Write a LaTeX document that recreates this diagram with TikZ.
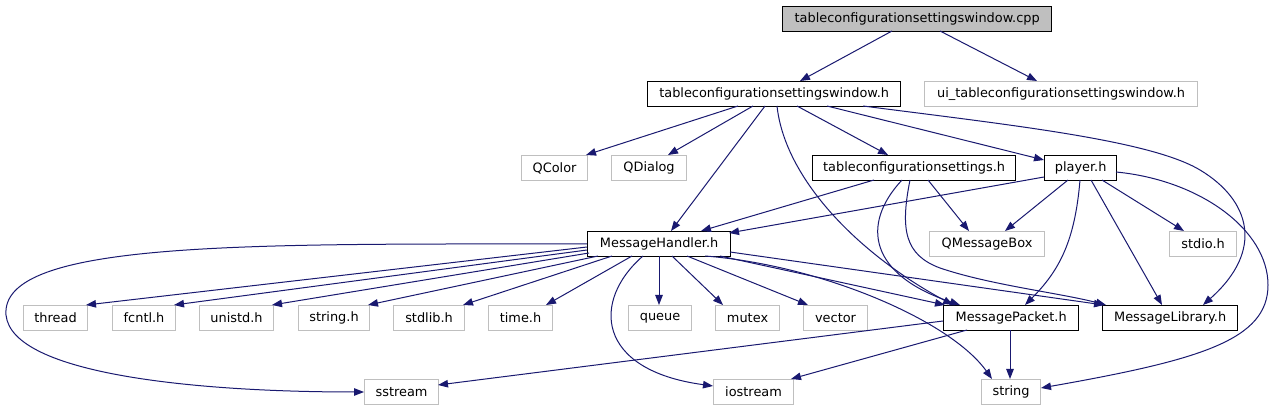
\documentclass[tikz,border=0pt]{standalone}
\usepackage{fontspec}
\setmainfont{DejaVu Sans}
\usetikzlibrary{arrows.meta,calc}
\definecolor{edgeblue}{RGB}{25,25,112}
\definecolor{extgray}{RGB}{191,191,191}
\begin{document}
\begin{tikzpicture}[x=1pt,y=-1pt,
  box/.style={draw=black, line width=1.3pt, anchor=north west, inner sep=0pt,
    minimum height=25pt, font=\fontsize{12.9}{15}\selectfont, text=black},
  ext/.style={box, draw=extgray, line width=1.1pt},
  root/.style={box, fill=extgray},
  dep/.style={draw=edgeblue, line width=1pt, -{Triangle[length=10pt,width=7.5pt]}}]
\path[use as bounding box, fill=white] (0,0) rectangle (1274,411);

% row 1
\node[root, minimum width=269pt] (cpp) at (782,6) {tableconfigurationsettingswindow.cpp};
% row 2
\node[box, minimum width=253pt] (tcsw) at (647,81) {tableconfigurationsettingswindow.h};
\node[ext, minimum width=273pt] (ui) at (924,81) {ui\_tableconfigurationsettingswindow.h};
% row 3
\node[ext, minimum width=66pt] (QColor) at (521,155) {QColor};
\node[ext, minimum width=75pt] (QDialog) at (611,155) {QDialog};
\node[box, minimum width=203pt] (tcs) at (812,155) {tableconfigurationsettings.h};
\node[box, minimum width=72pt] (player) at (1044,155) {player.h};
% row 4
\node[box, minimum width=143pt] (MH) at (587,231) {MessageHandler.h};
\node[ext, minimum width=115pt] (QMB) at (929,231) {QMessageBox};
\node[ext, minimum width=67pt] (stdio) at (1169,231) {stdio.h};
% row 5
\node[ext, minimum width=64pt] (thread) at (23,305) {thread};
\node[ext, minimum width=63pt] (fcntl) at (112,305) {fcntl.h};
\node[ext, minimum width=74pt] (unistd) at (199,305) {unistd.h};
\node[ext, minimum width=71pt] (stringh) at (298,305) {string.h};
\node[ext, minimum width=71pt] (stdlib) at (393,305) {stdlib.h};
\node[ext, minimum width=64pt] (timeh) at (488,305) {time.h};
\node[ext, minimum width=63pt] (queue) at (628,305) {queue};
\node[ext, minimum width=64pt] (mutex) at (715,305) {mutex};
\node[ext, minimum width=64pt] (vector) at (803,305) {vector};
\node[box, minimum width=135pt] (MP) at (943,305) {MessagePacket.h};
\node[box, minimum width=135pt] (MLib) at (1102,305) {MessageLibrary.h};
% row 6
\node[ext, minimum width=74pt] (sstream) at (364,379) {sstream};
\node[ext, minimum width=80pt] (iostream) at (713,379) {iostream};
\node[ext, minimum width=59pt] (string) at (981,379) {string};

% cpp
\draw[dep] ($(cpp.north west)+(110,25)$) -- ($(tcsw.north west)+(153,0)$);
\draw[dep] ($(cpp.north west)+(158,25)$) -- ($(ui.north west)+(113,0)$);
% tcsw
\draw[dep] ($(tcsw.north west)+(91,25)$) -- ($(QColor.north west)+(65,0)$);
\draw[dep] ($(tcsw.north west)+(106,25)$) -- ($(QDialog.north west)+(57,0)$);
\draw[dep] ($(tcsw.north west)+(118,25)$) -- ($(MH.north west)+(84,0)$);
\draw[dep] ($(tcsw.north west)+(130,25)$) .. controls (785,180) and (860,255) .. ($(MP.north west)+(10,0)$);
\draw[dep] ($(tcsw.north west)+(150,25)$) -- ($(tcs.north west)+(76,0)$);
\draw[dep] ($(tcsw.north west)+(180,25)$) -- ($(player.north west)+(0,5)$);
\draw[dep] ($(tcsw.north west)+(216,25)$) .. controls (1010,125) and (1150,140) .. (1200,170)
  .. controls (1250,200) and (1265,250) .. ($(MLib.north west)+(101,0)$);
% tcs
\draw[dep] ($(tcs.north west)+(62,25)$) -- ($(MH.north west)+(114,0)$);
\draw[dep] ($(tcs.north west)+(90,25)$) .. controls (860,225) and (870,275) .. ($(MP.north west)+(17,0)$);
\draw[dep] ($(tcs.north west)+(98,25)$) .. controls (900,230) and (905,255) .. (940,268)
  .. controls (990,285) and (1060,293) .. ($(MLib.north west)+(4,0)$);
\draw[dep] ($(tcs.north west)+(116,25)$) -- ($(QMB.north west)+(40,0)$);
% player
\draw[dep] ($(player.north west)+(0,22)$) -- ($(MH.north west)+(142,2)$);
\draw[dep] ($(player.north west)+(24,25)$) -- ($(QMB.north west)+(76,0)$);
\draw[dep] ($(player.north west)+(58,25)$) -- ($(stdio.north west)+(15,0)$);
\draw[dep] ($(player.north west)+(36,25)$) .. controls (1075,240) and (1060,270) .. ($(MP.north west)+(82,0)$);
\draw[dep] ($(player.north west)+(47,25)$) -- ($(MLib.north west)+(60,0)$);
\draw[dep] ($(player.north west)+(72,17)$) .. controls (1200,180) and (1268,230) .. (1268,285)
  .. controls (1268,340) and (1200,360) .. ($(string.north west)+(60,9)$);
% MessageHandler
\draw[dep] ($(MH.north west)+(0,13)$) .. controls (250,244) and (0,240) .. (6,315)
  .. controls (12,375) and (200,392) .. ($(sstream.north west)+(0,13)$);
\draw[dep] ($(MH.north west)+(0,16)$) -- ($(thread.north west)+(63,0)$);
\draw[dep] ($(MH.north west)+(0,19)$) -- ($(fcntl.north west)+(62,0)$);
\draw[dep] ($(MH.north west)+(2,22)$) -- ($(unistd.north west)+(73,0)$);
\draw[dep] ($(MH.north west)+(11,25)$) -- ($(stringh.north west)+(70,0)$);
\draw[dep] ($(MH.north west)+(25,25)$) -- ($(stdlib.north west)+(70,0)$);
\draw[dep] ($(MH.north west)+(45,25)$) -- ($(timeh.north west)+(58,0)$);
\draw[dep] ($(MH.north west)+(56,25)$) .. controls (592,300) and (595,370) .. ($(iostream.north west)+(0,7)$);
\draw[dep] ($(MH.north west)+(72,25)$) -- ($(queue.north west)+(31,0)$);
\draw[dep] ($(MH.north west)+(85,25)$) -- ($(mutex.north west)+(8,0)$);
\draw[dep] ($(MH.north west)+(100,25)$) -- ($(vector.north west)+(5,0)$);
\draw[dep] ($(MH.north west)+(118,25)$) .. controls (820,265) and (950,320) .. ($(string.north west)+(11,0)$);
\draw[dep] ($(MH.north west)+(133,25)$) -- ($(MP.north west)+(2,0)$);
\draw[dep] ($(MH.north west)+(143,21)$) -- ($(MLib.north west)+(2,0)$);
% MessagePacket
\draw[dep] ($(MP.north west)+(0,16)$) -- ($(sstream.north west)+(74,6)$);
\draw[dep] ($(MP.north west)+(24,25)$) -- ($(iostream.north west)+(78,0)$);
\draw[dep] ($(MP.north west)+(67,25)$) -- ($(string.north west)+(29,0)$);
\end{tikzpicture}
\end{document}
